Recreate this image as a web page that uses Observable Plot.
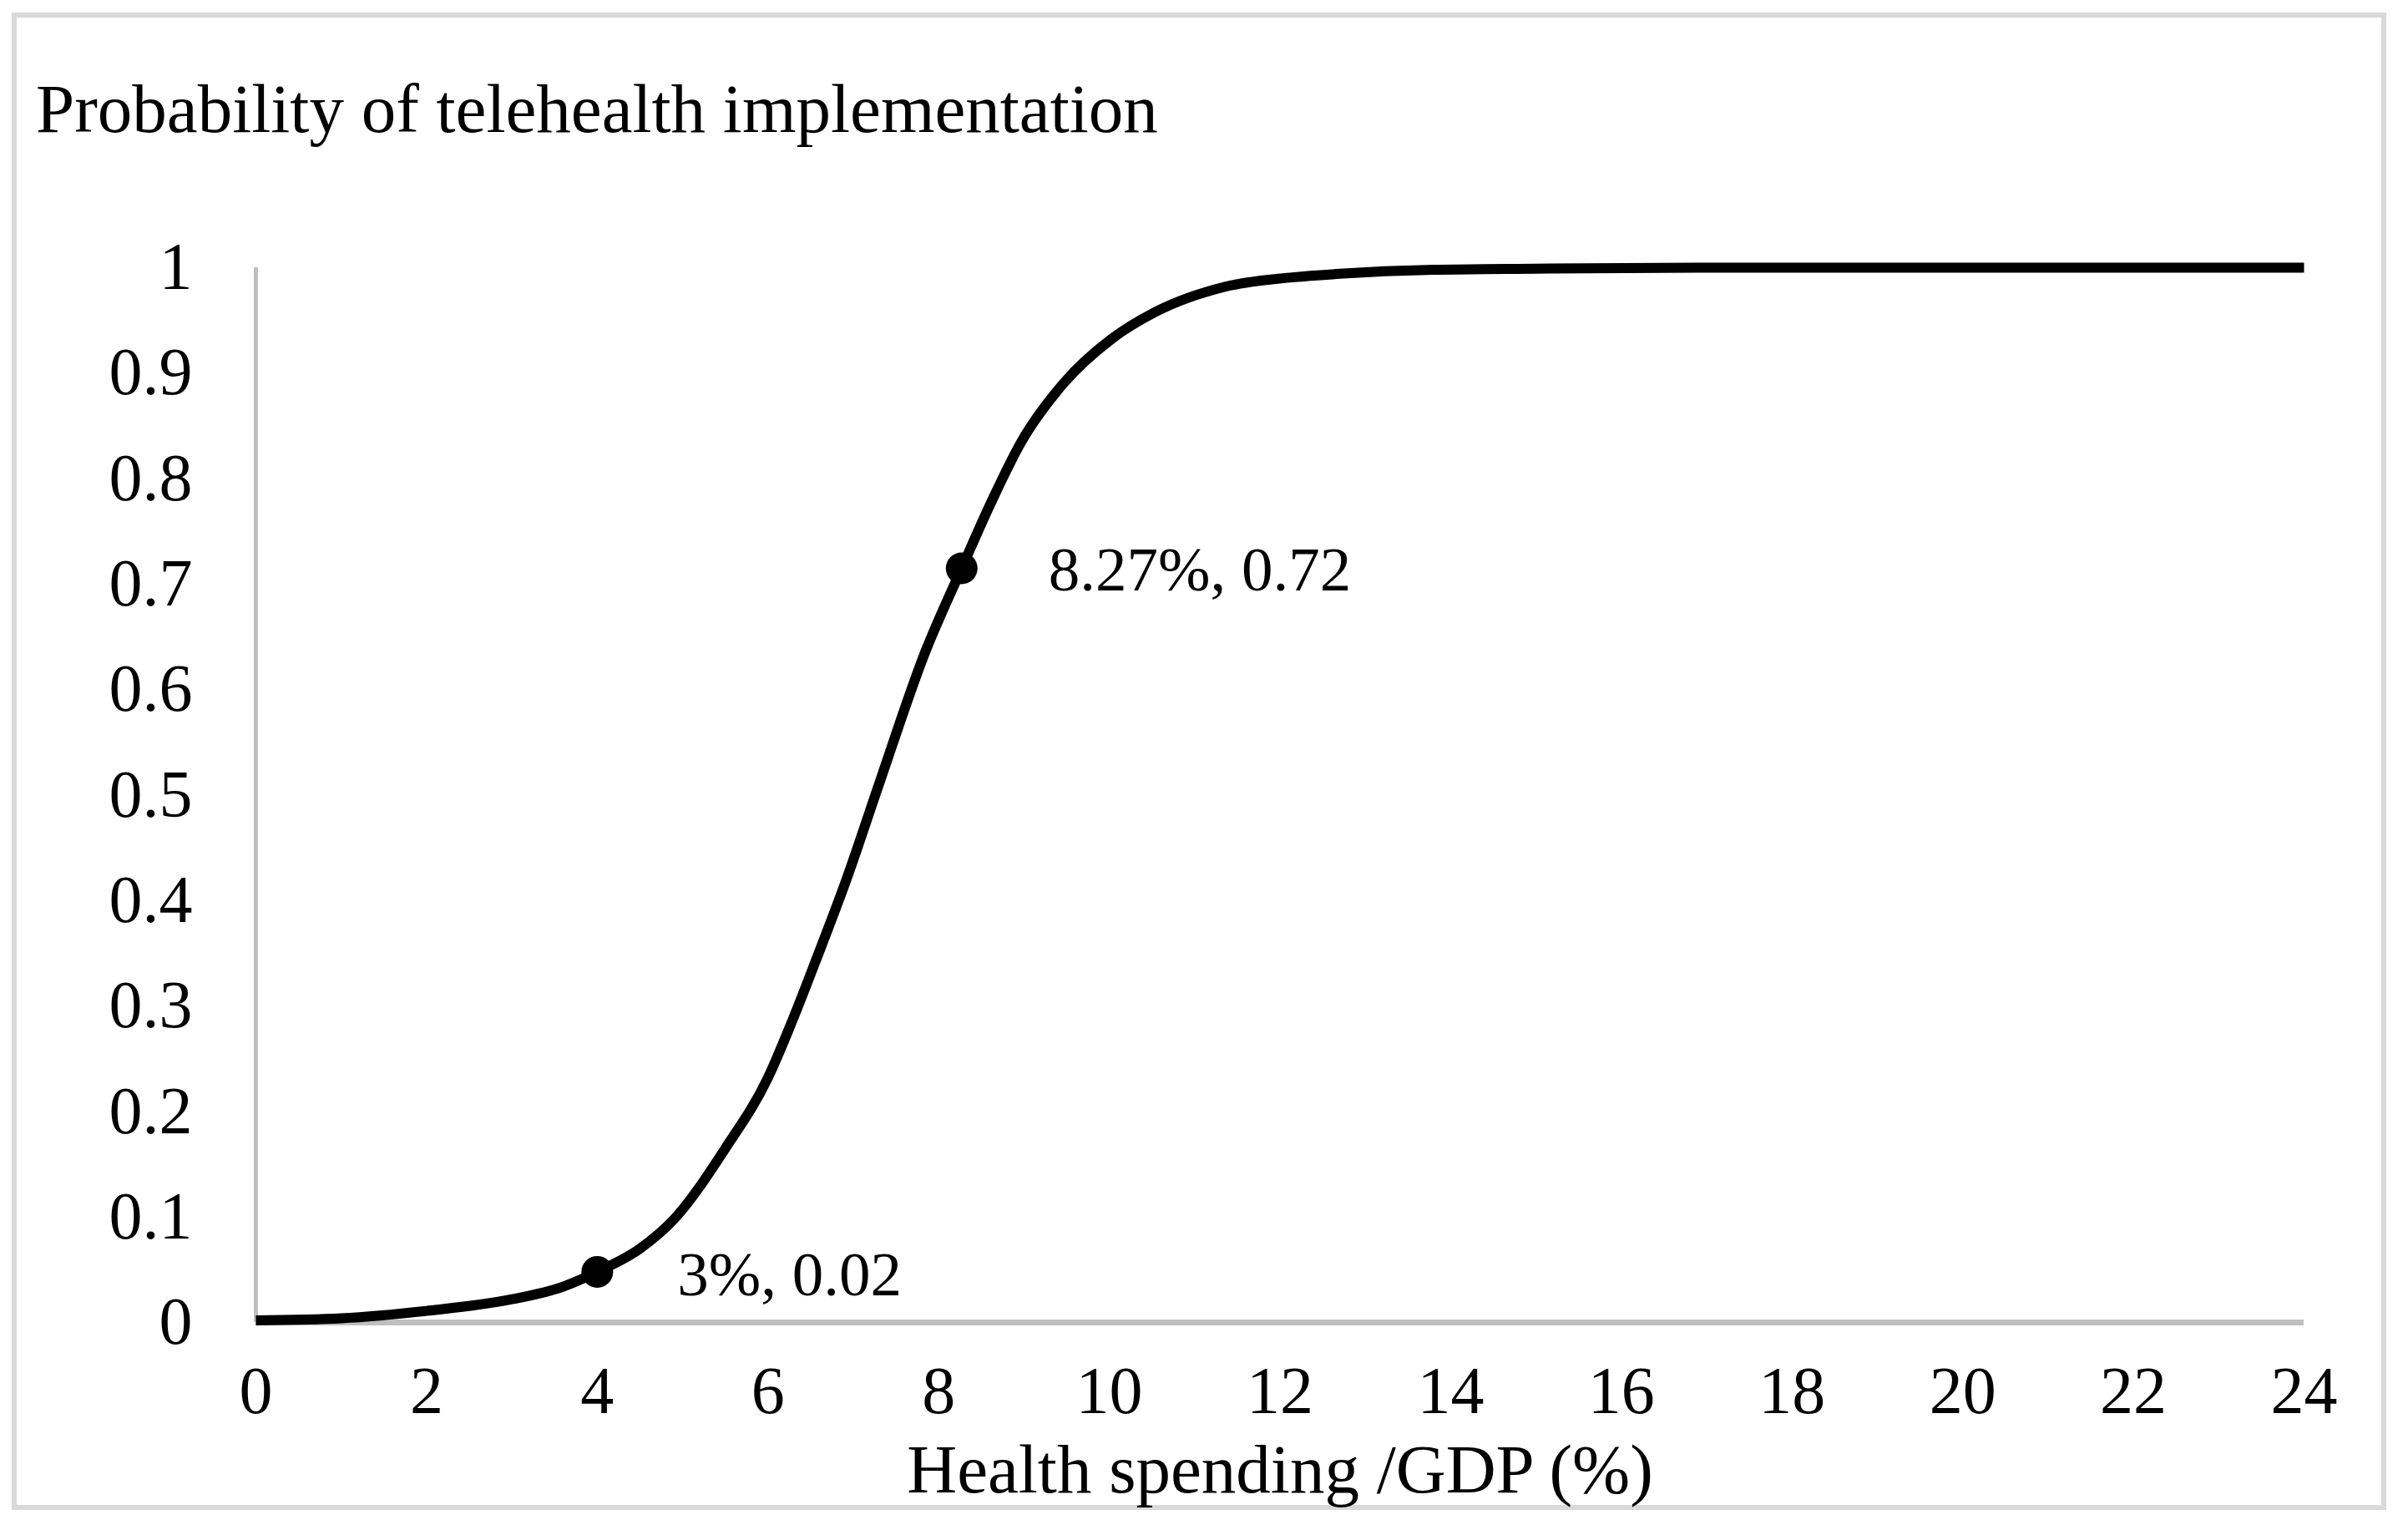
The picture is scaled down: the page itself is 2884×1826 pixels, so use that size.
<!DOCTYPE html>
<html><head><meta charset="utf-8">
<script src="https://cdn.jsdelivr.net/npm/d3@7"></script>
<script src="https://cdn.jsdelivr.net/npm/@observablehq/plot@0.6"></script>
<style>
html,body{margin:0;padding:0;background:#fff;}
body{width:2884px;height:1826px;overflow:hidden;position:relative;font-family:"Liberation Serif","Times New Roman",serif;}
#frame{position:absolute;left:14px;top:15px;width:2844px;height:1793px;box-sizing:border-box;border:6px solid #d9d9d9;}
#title{position:absolute;left:43px;top:89px;font-size:83px;line-height:83px;white-space:nowrap;color:#000;}
#chart{position:absolute;left:0;top:200px;}
</style></head><body>
<div id="frame"></div>
<div id="title">Probability of telehealth implementation</div>
<div id="chart"></div>
<script>
// Curve
const spending = [0, 1, 2, 3, 3.6, 4, 4.5, 4.9, 5.5, 6, 6.27, 6.57, 6.92, 7.3, 7.84, 8.27, 8.63, 8.97, 9.46, 10.02, 10.54, 11.36, 12.17, 12.66, 13.8, 15, 17, 20, 24];
const probability = [0.002, 0.004, 0.011, 0.022, 0.034, 0.048, 0.07, 0.098, 0.165, 0.232, 0.283, 0.345, 0.42, 0.51, 0.635, 0.715, 0.78, 0.835, 0.89, 0.932, 0.958, 0.982, 0.991, 0.994, 0.998, 0.999, 1, 1, 1];

// Highlighted points and their labels
const pointX = [4, 8.27];
const pointY = [0.048, 0.715];
const pointLabels = ["3%, 0.02", "8.27%, 0.72"];

// Ticks
const xTicks = [0, 2, 4, 6, 8, 10, 12, 14, 16, 18, 20, 22, 24];
const xTickLabels = ["0", "2", "4", "6", "8", "10", "12", "14", "16", "18", "20", "22", "24"];
const yTicks = [0, 0.1, 0.2, 0.3, 0.4, 0.5, 0.6, 0.7, 0.8, 0.9, 1];
const yTickLabels = ["0", "0.1", "0.2", "0.3", "0.4", "0.5", "0.6", "0.7", "0.8", "0.9", "1"];
const xLabel = "Health spending /GDP (%)";

const curve = spending.map((x, i) => ({x, y: probability[i]}));
const points = pointX.map((x, i) => ({x, y: pointY[i], label: pointLabels[i]}));

const font = "Liberation Serif, Times New Roman, serif";

const chart = Plot.plot({
  width: 2884,
  height: 1626,
  marginLeft: 306,
  marginRight: 125,
  marginTop: 120,
  marginBottom: 243,
  style: {background: "transparent", fontFamily: font, fontSize: "80px", color: "#000"},
  x: {domain: [0, 24]},
  y: {domain: [0, 1]},
  marks: [
    Plot.ruleY([0], {x1: 0, x2: 24, stroke: "#bfbfbf", strokeWidth: 7}),
    Plot.ruleX([0], {y1: 0, y2: 1, stroke: "#bfbfbf", strokeWidth: 5}),
    Plot.axisX({ticks: xTicks, tickFormat: d => xTickLabels[xTicks.indexOf(d)], tickSize: 0, tickPadding: 52, label: null, fontSize: 80, fill: "#000"}),
    Plot.axisY({ticks: yTicks, tickFormat: d => yTickLabels[yTicks.indexOf(d)], tickSize: 0, tickPadding: 76, label: null, fontSize: 80, fill: "#000"}),
    Plot.line(curve, {x: "x", y: "y", stroke: "#000", strokeWidth: 12, curve: "monotone-x", strokeLinecap: "butt"}),
    Plot.dot(points, {x: "x", y: "y", r: 19, fill: "#000", stroke: "none"}),
    Plot.text([points[0]], {x: "x", y: "y", text: "label", textAnchor: "start", lineAnchor: "middle", dx: 96, dy: 4, fontSize: 75, fill: "#000"}),
    Plot.text([points[1]], {x: "x", y: "y", text: "label", textAnchor: "start", lineAnchor: "middle", dx: 104, dy: 3, fontSize: 75, fill: "#000"}),
    Plot.text([xLabel], {frameAnchor: "bottom", lineAnchor: "bottom", dy: 203, text: d => d, fontSize: 83, fill: "#000"})
  ]
});
document.getElementById("chart").appendChild(chart);
</script>
</body></html>
